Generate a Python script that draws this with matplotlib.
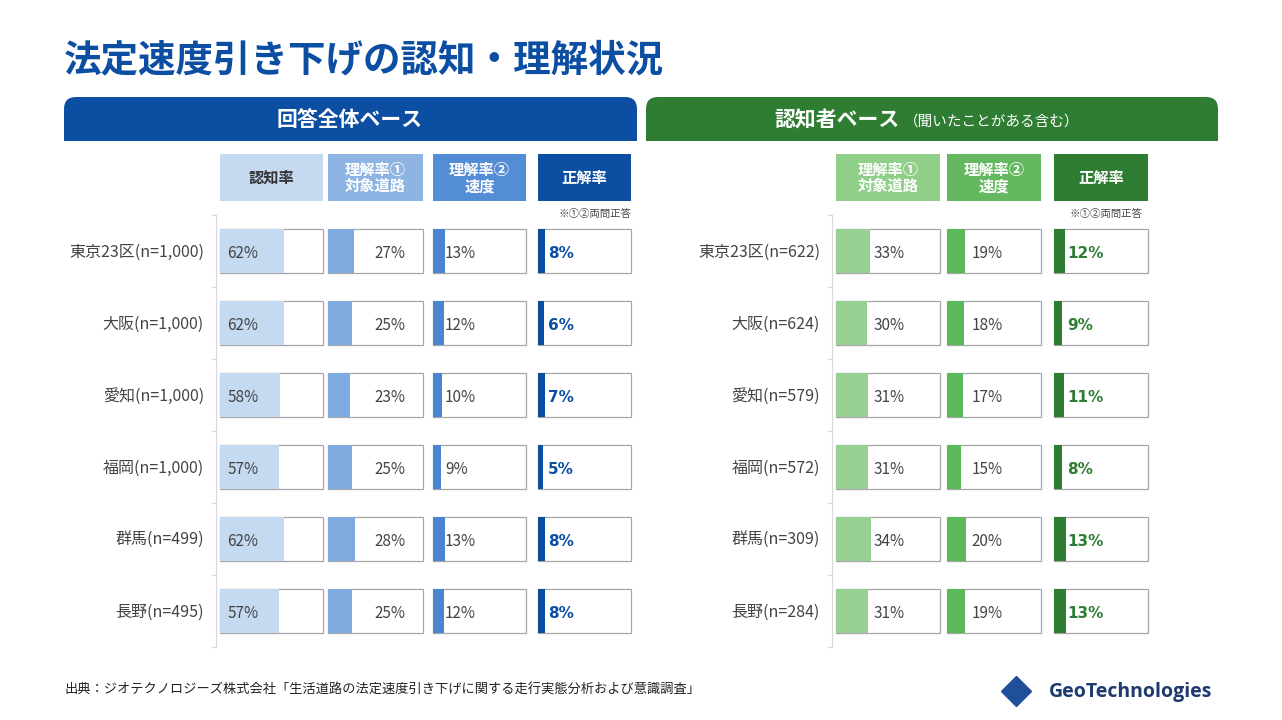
import matplotlib.pyplot as plt
from matplotlib.patches import Rectangle, FancyBboxPatch

plt.rcParams['font.family'] = ['Noto Sans CJK JP', 'DejaVu Sans']

W, H = 1282, 720

regions_all = ["東京23区(n=1,000)", "大阪(n=1,000)", "愛知(n=1,000)", "福岡(n=1,000)", "群馬(n=499)", "長野(n=495)"]
regions_aware = ["東京23区(n=622)", "大阪(n=624)", "愛知(n=579)", "福岡(n=572)", "群馬(n=309)", "長野(n=284)"]

all_awareness = [62, 62, 58, 57, 62, 57]
all_road = [27, 25, 23, 25, 28, 25]
all_speed = [13, 12, 10, 9, 13, 12]
all_correct = [8, 6, 7, 5, 8, 8]

aware_road = [33, 30, 31, 31, 34, 31]
aware_speed = [19, 18, 17, 15, 20, 19]
aware_correct = [12, 9, 11, 8, 13, 13]

BLUE = "#0B4EA2"
GREEN = "#2E7D32"

fig = plt.figure(figsize=(W / 100, H / 100), dpi=100)
bg = fig.add_axes([0, 0, 1, 1])
bg.set_xlim(0, W)
bg.set_ylim(H, 0)
bg.axis("off")

bg.text(64, 60, "法定速度引き下げの認知・理解状況", fontsize=27, fontweight="bold",
        color=BLUE, va="center", ha="left")

# panel banners
for x0, x1, col in [(64, 637, BLUE), (646, 1218, GREEN)]:
    bg.add_patch(FancyBboxPatch((x0, 97), x1 - x0, 44, boxstyle="round,pad=0,rounding_size=12",
                                fc=col, ec="none"))
    bg.add_patch(Rectangle((x0, 125), x1 - x0, 16, fc=col, ec="none"))
bg.text(350, 120, "回答全体ベース", color="white", fontsize=15, fontweight="bold", ha="center", va="center")
bg.text(900, 120, "認知者ベース", color="white", fontsize=15, fontweight="bold", ha="right", va="center")
bg.text(904, 122, "（聞いたことがある含む）", color="white", fontsize=10.5, ha="left", va="center")


def add_col(x, w, vals, color, head, head_bg, head_fg, label_pos, bold=False, label_color="#444444"):
    bg.add_patch(Rectangle((x, 154), w, 47, fc=head_bg, ec="none"))
    bg.text(x + w / 2, 178, head, color=head_fg, fontsize=11, fontweight="bold",
            ha="center", va="center", linespacing=1.05)
    ax = fig.add_axes([x / W, 1 - 647 / H, w / W, 432 / H])
    ys = list(range(len(vals)))
    ax.barh(ys, [100] * len(vals), height=0.62, color="white", edgecolor="#A6A6A6", lw=0.9,
            clip_on=False)
    ax.barh(ys, vals, height=0.62, color=color, edgecolor="none")
    for y, v in zip(ys, vals):
        ax.text(label_pos, y + 0.03, f"{v}%", va="center", ha="left", fontsize=11,
                color=label_color, fontweight="bold" if bold else "normal",
                family=["DejaVu Sans"] if bold else None)
    ax.set_xlim(0, 100)
    ax.set_ylim(len(vals) - 0.5, -0.5)
    ax.axis("off")


add_col(220, 103, all_awareness, "#C5D9F1", "認知率", "#C5D9F1", "#333333", 7)
add_col(328, 95, all_road, "#7EAAE0", "理解率①\n対象道路", "#8DB4E2", "white", 49)
add_col(433, 93, all_speed, "#4A86D0", "理解率②\n速度", "#538DD5", "white", 13)
add_col(538, 93, all_correct, BLUE, "正解率", BLUE, "white", 11, True, BLUE)
add_col(836, 104, aware_road, "#99D194", "理解率①\n対象道路", "#8FCF8A", "white", 36)
add_col(947, 94, aware_speed, "#5DB85B", "理解率②\n速度", "#63B860", "white", 26)
add_col(1054, 94, aware_correct, GREEN, "正解率", GREEN, "white", 14, True, GREEN)

bg.text(595, 214, "※①②両問正答", fontsize=7.5, color="#444444", ha="center", va="center")
bg.text(1106, 214, "※①②両問正答", fontsize=7.5, color="#444444", ha="center", va="center")

# row labels and faint axis lines
for labels, xr, xl in [(regions_all, 204, 216), (regions_aware, 820, 832)]:
    bg.plot([xl, xl], [215, 647], color="#D9D9D9", lw=0.8)
    for i, lab in enumerate(labels):
        y = 252 + 72 * i
        bg.text(xr, y, lab, ha="right", va="center", fontsize=11.5, color="#444444")
    for i in range(7):
        yb = 215 + 72 * i
        bg.plot([xl - 4, xl], [yb, yb], color="#D9D9D9", lw=0.8)

bg.text(64, 690, "出典：ジオテクノロジーズ株式会社「生活道路の法定速度引き下げに関する走行実態分析および意識調査」",
        fontsize=9.5, color="#222222", ha="left", va="center")
bg.plot([1016], [691], marker="D", markersize=15, color="#1F4E9A")
bg.text(1212, 692, "GeoTechnologies", fontsize=14, fontweight="bold", color="#1F3A6E",
        ha="right", va="center", family=["Open Sans", "DejaVu Sans"])

fig.savefig("out.png", dpi=100)
